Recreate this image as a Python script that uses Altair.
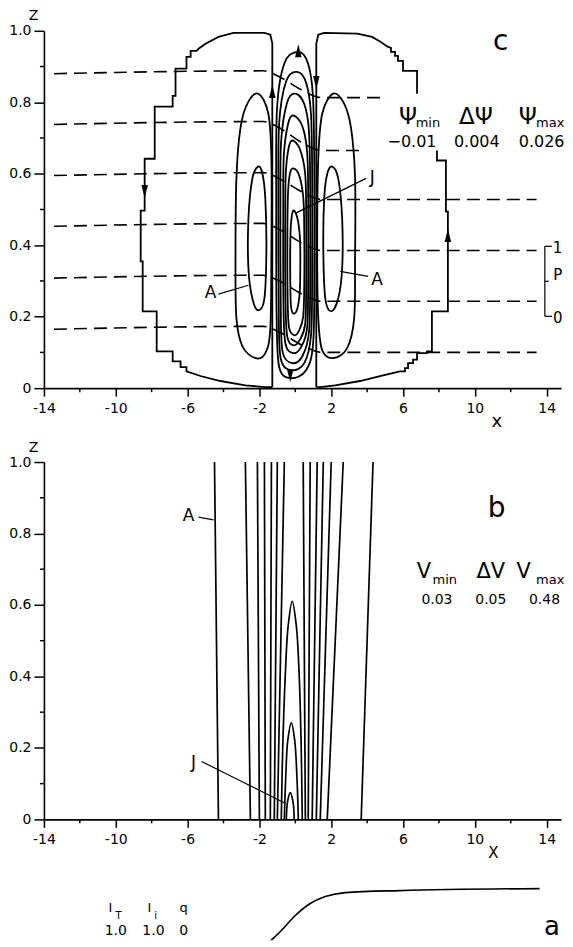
import altair as alt
import pandas as pd

FONT = "DejaVu Sans"

X_DOMAIN = [-14, 14.8]
Z_DOMAIN = [0, 1]
X_MAJOR = [-14, -10, -6, -2, 2, 6, 10, 14]
X_MINOR = [-12, -8, -4, 0, 4, 8, 12]
Z_MAJOR = [0.0, 0.2, 0.4, 0.6, 0.8, 1.0]
Z_MINOR = [0.1, 0.3, 0.5, 0.7, 0.9]

# ---------------- panel c : stream-function contours ----------------
STAIR_LEFT = [(-1.28, 0.003), (-1.28, 0.964), (-1.39, 0.989), (-1.72, 0.994), (-3.44, 0.994),
              (-4.28, 0.983), (-5.0, 0.964), (-5.39, 0.95), (-5.5, 0.944), (-5.83, 0.944),
              (-5.83, 0.927), (-6.06, 0.927), (-6.06, 0.894), (-6.67, 0.894), (-6.67, 0.818),
              (-6.83, 0.818), (-6.83, 0.788), (-7.83, 0.788), (-7.83, 0.642), (-8.39, 0.642),
              (-8.39, 0.497), (-8.61, 0.497), (-8.61, 0.355), (-8.5, 0.355), (-8.5, 0.215),
              (-7.72, 0.215), (-7.72, 0.103), (-6.83, 0.103), (-6.83, 0.075), (-6.39, 0.075),
              (-6.39, 0.059), (-6.06, 0.059), (-6.06, 0.047), (-5.28, 0.034), (-4.17, 0.02),
              (-2.78, 0.008), (-1.67, 0.003), (-1.28, 0.003)]
STAIR_RIGHT_UPPER = [(1.17, 0.003), (1.17, 0.964), (1.28, 0.989), (1.61, 0.994), (3.44, 0.992),
                     (4.28, 0.983), (4.72, 0.97), (5.17, 0.955), (5.33, 0.952), (5.33, 0.941),
                     (5.56, 0.941), (5.56, 0.93), (5.72, 0.93), (5.72, 0.916), (6.0, 0.916),
                     (6.0, 0.888), (6.78, 0.888), (6.78, 0.824)]
STAIR_RIGHT_LOWER = [(7.89, 0.665), (7.89, 0.637), (8.39, 0.637), (8.39, 0.494), (8.5, 0.494),
                     (8.5, 0.215), (7.61, 0.215), (7.61, 0.103), (7.33, 0.103), (7.33, 0.098),
                     (6.78, 0.098), (6.78, 0.08), (6.56, 0.08), (6.56, 0.07), (6.28, 0.07),
                     (6.28, 0.056), (6.11, 0.056), (6.11, 0.047), (5.83, 0.047), (4.72, 0.034),
                     (3.61, 0.02), (2.22, 0.008), (1.39, 0.003), (1.17, 0.003)]

SIDE_LEFT_OUTER = [(-2.06, 0.824), (-2.67, 0.796), (-3.06, 0.726), (-3.28, 0.587), (-3.33, 0.363),
                   (-3.28, 0.196), (-2.94, 0.117), (-2.22, 0.084), (-1.67, 0.098), (-1.39, 0.168),
                   (-1.33, 0.391), (-1.33, 0.642), (-1.5, 0.768)]
SIDE_LEFT_INNER = [(-2.06, 0.62), (-2.39, 0.587), (-2.61, 0.475), (-2.61, 0.335), (-2.39, 0.251),
                   (-2.06, 0.218), (-1.72, 0.251), (-1.61, 0.391), (-1.67, 0.531), (-1.83, 0.6)]
SIDE_RIGHT_OUTER = [(2.11, 0.824), (2.72, 0.796), (3.11, 0.726), (3.33, 0.587), (3.33, 0.363),
                    (3.28, 0.196), (2.89, 0.112), (2.11, 0.084), (1.5, 0.106), (1.28, 0.196),
                    (1.22, 0.391), (1.28, 0.642), (1.5, 0.768)]
SIDE_RIGHT_INNER = [(2.06, 0.62), (2.39, 0.587), (2.61, 0.475), (2.61, 0.335), (2.39, 0.251),
                    (2.0, 0.215), (1.67, 0.251), (1.56, 0.391), (1.61, 0.531), (1.78, 0.6)]

CORE_1 = [(0.17, 0.941), (0.7, 0.91), (0.98, 0.82), (1.06, 0.62), (1.06, 0.35), (1.0, 0.13),
          (0.6, 0.05), (-0.28, 0.028), (-0.9, 0.06), (-1.04, 0.2), (-1.06, 0.5), (-1.02, 0.78), (-0.6, 0.91)]
CORE_2 = [(0.11, 0.885), (0.6, 0.855), (0.87, 0.77), (0.94, 0.6), (0.94, 0.35), (0.88, 0.15),
          (0.5, 0.07), (-0.22, 0.05), (-0.8, 0.08), (-0.92, 0.2), (-0.94, 0.5), (-0.9, 0.74), (-0.5, 0.86)]
CORE_3 = [(0.0, 0.824), (0.5, 0.795), (0.76, 0.72), (0.83, 0.56), (0.83, 0.33), (0.77, 0.16),
          (0.4, 0.09), (-0.17, 0.07), (-0.7, 0.1), (-0.81, 0.22), (-0.83, 0.5), (-0.79, 0.69), (-0.45, 0.8)]
CORE_4 = [(-0.11, 0.763), (0.38, 0.735), (0.66, 0.66), (0.72, 0.52), (0.72, 0.32), (0.66, 0.17),
          (0.32, 0.115), (-0.11, 0.098), (-0.55, 0.125), (-0.66, 0.24), (-0.67, 0.5), (-0.64, 0.65), (-0.4, 0.74)]
CORE_5 = [(-0.17, 0.693), (0.25, 0.67), (0.55, 0.6), (0.61, 0.48), (0.61, 0.3), (0.55, 0.18),
          (0.25, 0.135), (-0.11, 0.12), (-0.45, 0.145), (-0.55, 0.25), (-0.56, 0.48), (-0.53, 0.6), (-0.38, 0.67)]
CORE_6 = [(-0.11, 0.615), (0.22, 0.595), (0.45, 0.53), (0.5, 0.43), (0.5, 0.29), (0.44, 0.2),
          (0.2, 0.16), (-0.06, 0.148), (-0.35, 0.17), (-0.43, 0.26), (-0.44, 0.43), (-0.41, 0.54), (-0.3, 0.6)]
CORE_7 = [(-0.11, 0.497), (0.12, 0.475), (0.26, 0.42), (0.28, 0.35), (0.25, 0.27), (0.1, 0.22),
          (-0.11, 0.209), (-0.24, 0.23), (-0.28, 0.3), (-0.28, 0.4), (-0.24, 0.46)]

P_LINE_1 = [(-13.44, 0.880), (-1.8, 0.888), (-0.8, 0.869), (0.3, 0.836), (1.5, 0.813), (5.11, 0.813)]
P_LINE_2 = [(-13.44, 0.738), (-1.8, 0.746), (-0.8, 0.726), (0.3, 0.689), (1.5, 0.665), (3.78, 0.665)]
P_LINE_3 = [(-13.44, 0.595), (-1.8, 0.603), (-0.8, 0.584), (0.3, 0.551), (1.5, 0.528), (13.44, 0.528)]
P_LINE_4 = [(-13.44, 0.453), (-1.8, 0.461), (-0.8, 0.442), (0.3, 0.408), (1.5, 0.385), (13.44, 0.385)]
P_LINE_5 = [(-13.44, 0.308), (-1.8, 0.316), (-0.8, 0.298), (0.3, 0.265), (1.5, 0.243), (13.44, 0.243)]
P_LINE_6 = [(-13.44, 0.165), (-1.8, 0.173), (-0.8, 0.155), (0.3, 0.122), (1.5, 0.100), (13.44, 0.100)]

C_LEADERS = {"J": [(3.94, 0.587), (0.0, 0.489)],
             "AL": [(-4.28, 0.263), (-2.61, 0.288)],
             "AR": [(4.06, 0.313), (2.5, 0.327)],
             "brv": [(13.9, 0.397), (13.9, 0.201)],
             "brt": [(13.9, 0.397), (14.3, 0.397)],
             "brb": [(13.9, 0.201), (14.3, 0.201)],
             "brm": [(13.9, 0.299), (14.12, 0.299)]}

ARROW_UP = [(-1.28, 0.83), (8.5, 0.427), (0.17, 0.944)]
ARROW_DOWN = [(1.17, 0.855), (-8.39, 0.55), (-0.28, 0.035)]

C_TITLE = ["c"]; C_TITLE_X = [11.44]; C_TITLE_Z = [0.97]
PSI_SYM = ["Ψ", "ΔΨ", "Ψ"]; PSI_SYM_X = [6.28, 10.06, 12.95]; PSI_SYM_Z = [0.738, 0.738, 0.738]
PSI_SUB = ["min", "max"]; PSI_SUB_X = [7.39, 14.2]; PSI_SUB_Z = [0.731, 0.731]
PSI_VAL = ["−0.01", "0.004", "0.026"]; PSI_VAL_X = [6.5, 10.11, 13.72]; PSI_VAL_Z = [0.676, 0.676, 0.676]
C_MARKS = ["J", "A", "A"]; C_MARKS_X = [4.28, -4.72, 4.56]; C_MARKS_Z = [0.589, 0.265, 0.302]
P_SCALE = ["1", "P", "0"]; P_SCALE_X = [14.6, 14.62, 14.62]; P_SCALE_Z = [0.391, 0.318, 0.196]

# ---------------- panel b : V contours ----------------
V_LINES = {"v03L": [(-4.28, 0.0), (-4.5, 1.0)], "v03R": [(3.67, 0.0), (4.33, 1.0)],
           "v08L": [(-2.5, 0.0), (-2.78, 1.0)], "v08R": [(1.78, 0.0), (2.67, 1.0)],
           "v13L": [(-2.0, 0.0), (-2.11, 1.0)], "v13R": [(1.39, 0.0), (2.0, 1.0)],
           "v18L": [(-1.67, 0.0), (-1.72, 1.0)], "v18R": [(1.17, 0.0), (1.56, 1.0)],
           "v23L": [(-1.39, 0.0), (-1.33, 1.0)], "v23R": [(0.94, 0.0), (1.22, 1.0)],
           "v28L": [(-1.17, 0.0), (-1.0, 1.0)], "v28R": [(0.72, 0.0), (0.83, 1.0)],
           "v33L": [(-1.0, 0.0), (-0.61, 1.0)], "v33R": [(0.56, 0.0), (0.44, 1.0)],
           "v38": [(-0.78, 0.0), (-0.7, 0.2), (-0.56, 0.4), (-0.4, 0.54), (-0.17, 0.61),
                   (0.06, 0.54), (0.22, 0.4), (0.33, 0.2), (0.39, 0.0)],
           "v43": [(-0.61, 0.0), (-0.53, 0.12), (-0.42, 0.22), (-0.22, 0.27), (-0.03, 0.22),
                   (0.09, 0.12), (0.17, 0.0)],
           "v48": [(-0.5, 0.0), (-0.43, 0.05), (-0.28, 0.075), (-0.13, 0.05), (-0.06, 0.0)]}
B_LEADERS = {"A": [(-5.39, 0.846), (-4.56, 0.838)], "J": [(-5.22, 0.162), (-0.56, 0.045)]}
B_TITLE = ["b"]; B_TITLE_X = [11.22]; B_TITLE_Z = [0.869]
V_SYM = ["V", "ΔV", "V"]; V_SYM_X = [7.17, 10.89, 12.72]; V_SYM_Z = [0.676, 0.676, 0.676]
V_SUB = ["min", "max"]; V_SUB_X = [8.33, 14.2]; V_SUB_Z = [0.659, 0.659]
V_VAL = ["0.03", "0.05", "0.48"]; V_VAL_X = [7.89, 10.89, 13.88]; V_VAL_Z = [0.603, 0.603, 0.603]
B_MARKS = ["A", "J"]; B_MARKS_X = [-5.94, -5.67]; B_MARKS_Z = [0.849, 0.159]

# ---------------- panel a : profile ----------------
A_CURVE = [(-2.5, -0.233), (-1.67, -0.076), (-0.83, 0.124), (0.0, 0.353), (0.83, 0.524),
           (1.67, 0.624), (2.78, 0.681), (5.83, 0.71), (13.61, 0.739)]
A_HEAD = ["I", "I", "q"]; A_HEAD_X = [-10.3, -8.12, -6.22]; A_HEAD_Z = [0.41, 0.41, 0.41]
A_SUB = ["T", "i"]; A_SUB_X = [-9.85, -7.78]; A_SUB_Z = [0.296, 0.296]
A_VAL = ["1.0", "1.0", "0"]; A_VAL_X = [-10.0, -7.9, -6.22]; A_VAL_Z = [0.067, 0.067, 0.067]
A_TITLE = ["a"]; A_TITLE_X = [14.3]; A_TITLE_Z = [0.081]

PX_PER_UNIT = 18
W = round((X_DOMAIN[1] - X_DOMAIN[0]) * PX_PER_UNIT)
H = 358
H3 = 70


def frame(groups):
    rows = []
    for gid, pts in groups.items():
        for i, (x, z) in enumerate(pts):
            rows.append({"id": gid, "o": i, "x": x, "z": z})
    return pd.DataFrame(rows)


def tframe(texts, xs_, zs_):
    return pd.DataFrame({"t": texts, "x": xs_, "z": zs_})


XS = alt.Scale(domain=X_DOMAIN, nice=False, zero=False)
ZS = alt.Scale(domain=Z_DOMAIN, nice=False, zero=False)


def x_axis(title, title_at, title_y, size):
    return alt.Axis(values=X_MAJOR, labelExpr="'' + datum.value", tickSize=8, tickWidth=1.5,
                    tickColor="black", domainColor="black", domainWidth=1.6, grid=False,
                    labelFont=FONT, labelFontSize=14, labelColor="black", labelPadding=5,
                    labelFlush=False, labelOverlap=False,
                    title=title, titleX=(title_at - X_DOMAIN[0]) * W / (X_DOMAIN[1] - X_DOMAIN[0]),
                    titleY=title_y, titleAngle=0, titleAlign="center",
                    titleBaseline="middle", titleFont=FONT, titleFontSize=size,
                    titleFontWeight="normal", titleColor="black")


def z_axis():
    return alt.Axis(values=Z_MAJOR, labelExpr="datum.value == 0 ? '0' : format(datum.value, '.1f')",
                    tickSize=10, tickWidth=1.5, tickColor="black", domainColor="black",
                    domainWidth=1.6, grid=False, labelFont=FONT, labelFontSize=14,
                    labelColor="black", labelPadding=3, labelFlush=False, labelOverlap=False,
                    title="Z", titleX=-11, titleY=-8, titleAngle=0, titleAlign="center",
                    titleBaseline="bottom", titleFont=FONT, titleFontSize=14,
                    titleFontWeight="normal", titleColor="black")


def xy(xa, za):
    return dict(x=alt.X("x:Q", scale=XS, axis=xa), y=alt.Y("z:Q", scale=ZS, axis=za))


def lines(df, xa, za, interp, width=1.7, dash=None, clip=False):
    kw = dict(interpolate=interp, color="black", strokeWidth=width, clip=clip)
    if dash:
        kw["strokeDash"] = dash
    return alt.Chart(df).mark_line(**kw).encode(detail="id:N", order="o:Q", **xy(xa, za))


def texts(df, xa, za, size, baseline="middle", align="center"):
    return alt.Chart(df).mark_text(font=FONT, fontSize=size, baseline=baseline, align=align,
                                   color="black").encode(text="t:N", **xy(xa, za))


def arrows(pts, shape, xa, za):
    df = pd.DataFrame({"x": [p[0] for p in pts], "z": [p[1] for p in pts]})
    return alt.Chart(df).mark_point(shape=shape, filled=True, size=170, color="black",
                                    opacity=1, strokeWidth=0).encode(**xy(xa, za))


def minor_ticks(xa, za, height):
    mx = alt.Chart(pd.DataFrame({"x": X_MINOR})).mark_rule(color="black", strokeWidth=1.5).encode(
        x=alt.X("x:Q", scale=XS, axis=xa), y=alt.value(height), y2=alt.value(height + 4))
    mz = alt.Chart(pd.DataFrame({"z": Z_MINOR})).mark_rule(color="black", strokeWidth=1.5).encode(
        y=alt.Y("z:Q", scale=ZS, axis=za), x=alt.value(0), x2=alt.value(-4))
    return [mx, mz]


UP = "M-0.5,1 L0,-1 L0.5,1 Z"
DOWN = "M-0.5,-1 L0,1 L0.5,-1 Z"

# ---- panel c ----
xa_c = x_axis("x", 11.2, 33, 18)
za_c = z_axis()
stairs = frame({"SL": STAIR_LEFT, "SRU": STAIR_RIGHT_UPPER, "SRL": STAIR_RIGHT_LOWER})
loops = frame({"LO": SIDE_LEFT_OUTER, "LI": SIDE_LEFT_INNER, "RO": SIDE_RIGHT_OUTER,
               "RI": SIDE_RIGHT_INNER, "C1": CORE_1, "C2": CORE_2, "C3": CORE_3, "C4": CORE_4,
               "C5": CORE_5, "C6": CORE_6, "C7": CORE_7})
plines = frame({"P1": P_LINE_1, "P2": P_LINE_2, "P3": P_LINE_3, "P4": P_LINE_4,
                "P5": P_LINE_5, "P6": P_LINE_6})

panel_c = alt.layer(
    lines(stairs, xa_c, za_c, "linear", 1.8),
    lines(loops, xa_c, za_c, "cardinal-closed", 1.8),
    lines(plines, xa_c, za_c, "monotone", 1.6, dash=[13, 7]),
    lines(frame(C_LEADERS), xa_c, za_c, "linear", 1.2),
    arrows(ARROW_UP, UP, xa_c, za_c),
    arrows(ARROW_DOWN, DOWN, xa_c, za_c),
    texts(tframe(C_TITLE, C_TITLE_X, C_TITLE_Z), xa_c, za_c, 28),
    texts(tframe(PSI_SYM, PSI_SYM_X, PSI_SYM_Z), xa_c, za_c, 23, "alphabetic"),
    texts(tframe(PSI_SUB, PSI_SUB_X, PSI_SUB_Z), xa_c, za_c, 13, "alphabetic"),
    texts(tframe(PSI_VAL, PSI_VAL_X, PSI_VAL_Z), xa_c, za_c, 16, "alphabetic"),
    texts(tframe(C_MARKS, C_MARKS_X, C_MARKS_Z), xa_c, za_c, 17),
    texts(tframe(P_SCALE, P_SCALE_X, P_SCALE_Z), xa_c, za_c, 15),
    *minor_ticks(xa_c, za_c, H),
).properties(width=W, height=H)

# ---- panel b ----
xa_b = x_axis("X", 11.0, 33, 15)
za_b = z_axis()
panel_b = alt.layer(
    lines(frame(V_LINES), xa_b, za_b, "catmull-rom", 1.7, clip=True),
    lines(frame(B_LEADERS), xa_b, za_b, "linear", 1.2),
    texts(tframe(B_TITLE, B_TITLE_X, B_TITLE_Z), xa_b, za_b, 28),
    texts(tframe(V_SYM, V_SYM_X, V_SYM_Z), xa_b, za_b, 21, "alphabetic"),
    texts(tframe(V_SUB, V_SUB_X, V_SUB_Z), xa_b, za_b, 13, "alphabetic"),
    texts(tframe(V_VAL, V_VAL_X, V_VAL_Z), xa_b, za_b, 14, "alphabetic"),
    texts(tframe(B_MARKS, B_MARKS_X, B_MARKS_Z), xa_b, za_b, 17),
    *minor_ticks(xa_b, za_b, H),
).properties(width=W, height=H)

# ---- panel a ----
panel_a = alt.layer(
    lines(frame({"curve": A_CURVE}), None, None, "monotone", 1.7, clip=True),
    texts(tframe(A_HEAD, A_HEAD_X, A_HEAD_Z), None, None, 13, "alphabetic"),
    texts(tframe(A_SUB, A_SUB_X, A_SUB_Z), None, None, 10, "alphabetic"),
    texts(tframe(A_VAL, A_VAL_X, A_VAL_Z), None, None, 14, "alphabetic"),
    texts(tframe(A_TITLE, A_TITLE_X, A_TITLE_Z), None, None, 26, "alphabetic"),
).properties(width=W, height=H3)

chart = alt.vconcat(panel_c, panel_b, panel_a, spacing=10).properties(
    padding={"left": 0, "top": 0, "right": 0, "bottom": 0}
).configure_view(strokeWidth=0)

chart.save("out.html", embed_options={"renderer": "svg", "actions": False})
